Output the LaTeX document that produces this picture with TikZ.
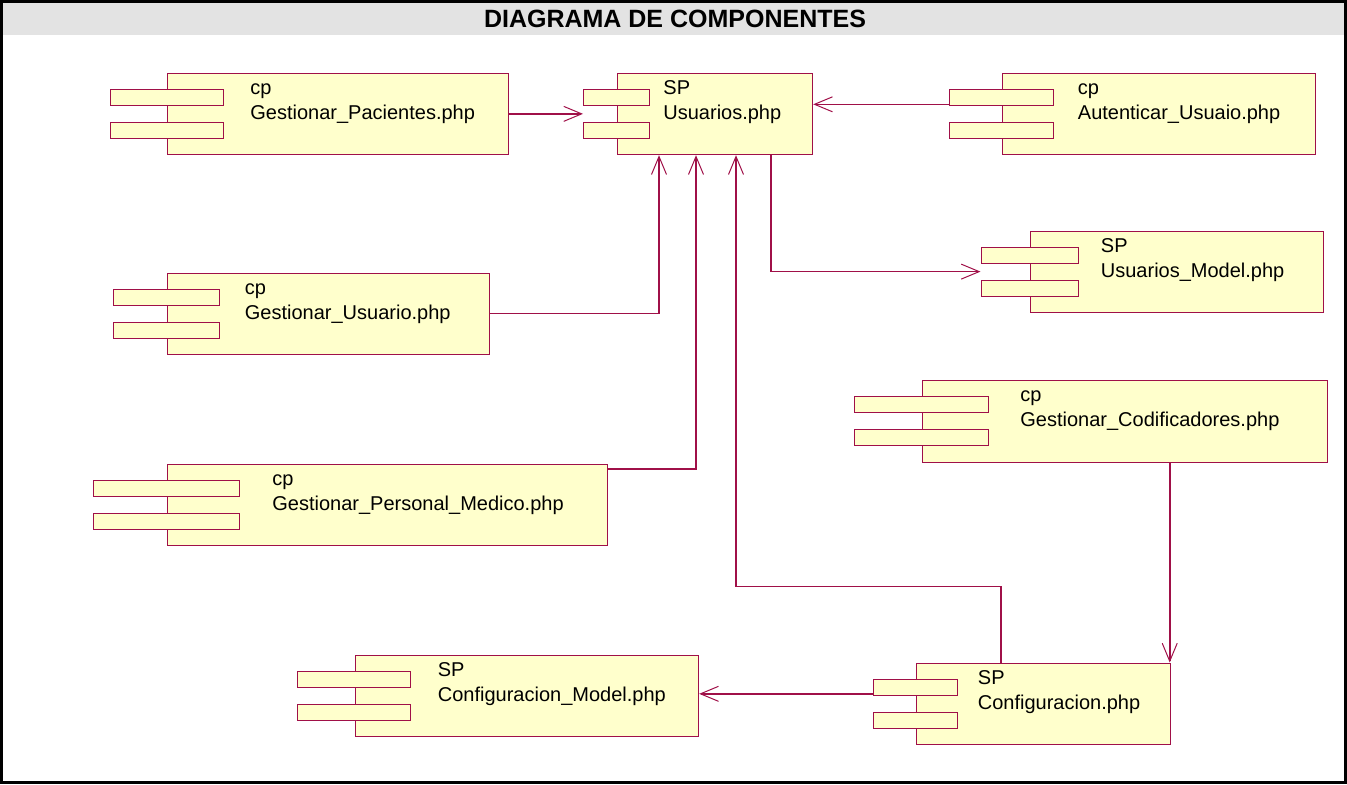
\documentclass[tikz,border=0pt]{standalone}
\usepackage{fontspec}
\setmainfont{Liberation Sans}
\usetikzlibrary{arrows.meta,calc}

\definecolor{umlline}{RGB}{160,16,72}
\definecolor{umlfill}{RGB}{255,255,204}
\definecolor{headgray}{RGB}{227,227,227}

\tikzset{
  compbody/.style={draw=umlline, fill=umlfill, line width=0.6pt, inner sep=0pt, rectangle},
  compport/.style={draw=umlline, fill=umlfill, line width=0.6pt, inner sep=0pt, rectangle, minimum height=7.8pt},
  complabel/.style={anchor=base west, inner sep=0pt, font=\fontsize{10}{12}\selectfont},
  conn/.style={draw=umlline, line width=0.8pt,
    -{Straight Barb[length=9pt,width=7.5pt,line width=0.5pt]}},
}

% component: name, left, top, right, bottom, port left, port right
\newcommand\umlcomp[7]{%
  \node[compbody, minimum width={(#4-#2)*0.5pt}, minimum height={(#5-#3)*0.5pt}, anchor=north west] (#1) at (#2,#3) {};
  \node[compport, minimum width={(#7-#6)*0.5pt}, anchor=north west] (#1P1) at (#6,#3+16.5) {};
  \node[compport, minimum width={(#7-#6)*0.5pt}, anchor=north west] (#1P2) at (#6,#3+49.5) {};
}
% label: name, x, top, stereotype, component name
\newcommand\umllabel[5]{%
  \node[complabel] (#1S) at (#2,#3+22) {#4};
  \node[complabel] (#1N) at (#2,#3+47) {#5};
}

\begin{document}
\begin{tikzpicture}[x=0.5pt,y=-0.5pt]
  \useasboundingbox (0,0) rectangle (1347,784);

  % header band and frame
  \fill[headgray] (3,3) rectangle (1344,35);
  \node[anchor=base, inner sep=0pt, font=\bfseries\fontsize{12.5}{15}\selectfont] (title) at (675,27) {DIAGRAMA DE COMPONENTES};
  \draw[black, line width=1.5pt] (1.5,1.5) rectangle (1345.5,782.5);

  % components
  \umlcomp{pac}{167}{72.5}{507.5}{154}{110}{222.5}
  \umllabel{pac}{250}{72.5}{cp}{Gestionar\_Pacientes.php}

  \umlcomp{usu}{616.5}{72.5}{812}{154}{583}{648.5}
  \umllabel{usu}{663}{72.5}{SP}{Usuarios.php}

  \umlcomp{aut}{1001.5}{72.5}{1315}{154}{948.5}{1052.5}
  \umllabel{aut}{1077.5}{72.5}{cp}{Autenticar\_Usuaio.php}

  \umlcomp{umod}{1030}{230.5}{1323}{311.5}{980.5}{1077.5}
  \umllabel{umod}{1100.5}{230.5}{SP}{Usuarios\_Model.php}

  \umlcomp{gus}{166.5}{272.5}{488.5}{353.5}{112.5}{218.5}
  \umllabel{gus}{244.5}{272.5}{cp}{Gestionar\_Usuario.php}

  \umlcomp{gpm}{167}{463.5}{607}{545}{93}{238.5}
  \umllabel{gpm}{272}{463.5}{cp}{Gestionar\_Personal\_Medico.php}

  \umlcomp{cod}{922}{379.5}{1326.5}{461.5}{854}{987.5}
  \umllabel{cod}{1020}{379.5}{cp}{Gestionar\_Codificadores.php}

  \umlcomp{cmod}{354.5}{654.5}{698}{735.5}{297}{410}
  \umllabel{cmod}{437.5}{654.5}{SP}{Configuracion\_Model.php}

  \umlcomp{cfg}{915.5}{662.5}{1170}{744}{872.5}{956.5}
  \umllabel{cfg}{977.5}{662.5}{SP}{Configuracion.php}

  % dependencies
  \draw[conn] (pac.east) -- (usuP1.west |- usu.west);

  \coordinate (autout) at ($(autP1.south west)+(0,-1.5)$);
  \draw[conn] (autout) -- (autout -| usu.east);

  \draw[conn] (gus.east) -| ($(usu.south west)+(42.5,0)$);
  \draw[conn] ($(gpm.north east)+(0,5.5)$) -| ($(usu.south west)+(79.5,0)$);

  \coordinate (cfgout) at ($(cfg.north west)+(85.5,0)$);
  \draw[conn] (cfgout) -- ++(0,-76) -| ($(usu.south west)+(119.5,0)$);

  \draw[conn] ($(usu.south west)+(154.5,0)$) |- (umodP1.west |- umod.west);

  \coordinate (cfgin) at ($(cfg.north east)+(-1.5,0)$);
  \draw[conn] (cod.south -| cfgin) -- (cfgin);

  \coordinate (cfgleft) at ($(cfgP1.south west)+(0,-2)$);
  \draw[conn] (cfgleft) -- (cfgleft -| cmod.east);
\end{tikzpicture}
\end{document}
